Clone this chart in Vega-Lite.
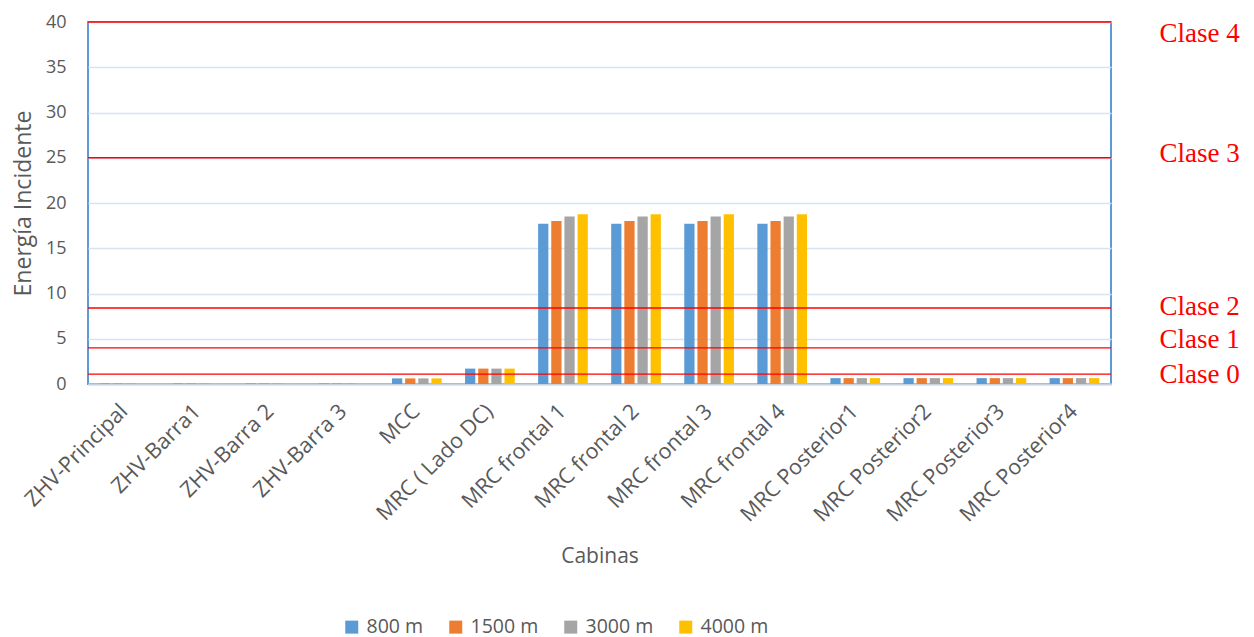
{
  "$schema": "https://vega.github.io/schema/vega-lite/v6.json",
  "width": 1023,
  "height": 362,
  "padding": {"left": 12, "top": 13, "right": 4, "bottom": 2},
  "background": "white",
  "config": {
    "font": "Open Sans",
    "view": {"stroke": "#5B9BD5", "strokeWidth": 2},
    "axis": {"labelColor": "#595959", "titleColor": "#595959", "labelFont": "Open Sans", "titleFont": "Open Sans", "titleFontWeight": "normal"},
    "legend": {"labelFont": "Open Sans", "labelColor": "#595959"}
  },
  "datasets": {
    "energia": [
      {"cabina": "ZHV-Principal", "distancia": "800 m", "energia": 0.05},
      {"cabina": "ZHV-Principal", "distancia": "1500 m", "energia": 0.05},
      {"cabina": "ZHV-Principal", "distancia": "3000 m", "energia": 0.05},
      {"cabina": "ZHV-Principal", "distancia": "4000 m", "energia": 0.05},
      {"cabina": "ZHV-Barra1", "distancia": "800 m", "energia": 0.05},
      {"cabina": "ZHV-Barra1", "distancia": "1500 m", "energia": 0.05},
      {"cabina": "ZHV-Barra1", "distancia": "3000 m", "energia": 0.05},
      {"cabina": "ZHV-Barra1", "distancia": "4000 m", "energia": 0.05},
      {"cabina": "ZHV-Barra 2", "distancia": "800 m", "energia": 0.05},
      {"cabina": "ZHV-Barra 2", "distancia": "1500 m", "energia": 0.05},
      {"cabina": "ZHV-Barra 2", "distancia": "3000 m", "energia": 0.05},
      {"cabina": "ZHV-Barra 2", "distancia": "4000 m", "energia": 0.05},
      {"cabina": "ZHV-Barra 3", "distancia": "800 m", "energia": 0.05},
      {"cabina": "ZHV-Barra 3", "distancia": "1500 m", "energia": 0.05},
      {"cabina": "ZHV-Barra 3", "distancia": "3000 m", "energia": 0.05},
      {"cabina": "ZHV-Barra 3", "distancia": "4000 m", "energia": 0.05},
      {"cabina": "MCC", "distancia": "800 m", "energia": 0.62},
      {"cabina": "MCC", "distancia": "1500 m", "energia": 0.62},
      {"cabina": "MCC", "distancia": "3000 m", "energia": 0.62},
      {"cabina": "MCC", "distancia": "4000 m", "energia": 0.62},
      {"cabina": "MRC ( Lado DC)", "distancia": "800 m", "energia": 1.7},
      {"cabina": "MRC ( Lado DC)", "distancia": "1500 m", "energia": 1.7},
      {"cabina": "MRC ( Lado DC)", "distancia": "3000 m", "energia": 1.7},
      {"cabina": "MRC ( Lado DC)", "distancia": "4000 m", "energia": 1.7},
      {"cabina": "MRC frontal 1", "distancia": "800 m", "energia": 17.7},
      {"cabina": "MRC frontal 1", "distancia": "1500 m", "energia": 18.0},
      {"cabina": "MRC frontal 1", "distancia": "3000 m", "energia": 18.5},
      {"cabina": "MRC frontal 1", "distancia": "4000 m", "energia": 18.75},
      {"cabina": "MRC frontal 2", "distancia": "800 m", "energia": 17.7},
      {"cabina": "MRC frontal 2", "distancia": "1500 m", "energia": 18.0},
      {"cabina": "MRC frontal 2", "distancia": "3000 m", "energia": 18.5},
      {"cabina": "MRC frontal 2", "distancia": "4000 m", "energia": 18.75},
      {"cabina": "MRC frontal 3", "distancia": "800 m", "energia": 17.7},
      {"cabina": "MRC frontal 3", "distancia": "1500 m", "energia": 18.0},
      {"cabina": "MRC frontal 3", "distancia": "3000 m", "energia": 18.5},
      {"cabina": "MRC frontal 3", "distancia": "4000 m", "energia": 18.75},
      {"cabina": "MRC frontal 4", "distancia": "800 m", "energia": 17.7},
      {"cabina": "MRC frontal 4", "distancia": "1500 m", "energia": 18.0},
      {"cabina": "MRC frontal 4", "distancia": "3000 m", "energia": 18.5},
      {"cabina": "MRC frontal 4", "distancia": "4000 m", "energia": 18.75},
      {"cabina": "MRC Posterior1", "distancia": "800 m", "energia": 0.65},
      {"cabina": "MRC Posterior1", "distancia": "1500 m", "energia": 0.65},
      {"cabina": "MRC Posterior1", "distancia": "3000 m", "energia": 0.65},
      {"cabina": "MRC Posterior1", "distancia": "4000 m", "energia": 0.65},
      {"cabina": "MRC Posterior2", "distancia": "800 m", "energia": 0.65},
      {"cabina": "MRC Posterior2", "distancia": "1500 m", "energia": 0.65},
      {"cabina": "MRC Posterior2", "distancia": "3000 m", "energia": 0.65},
      {"cabina": "MRC Posterior2", "distancia": "4000 m", "energia": 0.65},
      {"cabina": "MRC Posterior3", "distancia": "800 m", "energia": 0.65},
      {"cabina": "MRC Posterior3", "distancia": "1500 m", "energia": 0.65},
      {"cabina": "MRC Posterior3", "distancia": "3000 m", "energia": 0.65},
      {"cabina": "MRC Posterior3", "distancia": "4000 m", "energia": 0.65},
      {"cabina": "MRC Posterior4", "distancia": "800 m", "energia": 0.65},
      {"cabina": "MRC Posterior4", "distancia": "1500 m", "energia": 0.65},
      {"cabina": "MRC Posterior4", "distancia": "3000 m", "energia": 0.65},
      {"cabina": "MRC Posterior4", "distancia": "4000 m", "energia": 0.65}
    ],
    "clases": [
      {"clase": "Clase 0", "limite": 1.1},
      {"clase": "Clase 1", "limite": 4.0},
      {"clase": "Clase 2", "limite": 8.4},
      {"clase": "Clase 3", "limite": 25.0},
      {"clase": "Clase 4", "limite": 40.0}
    ]
  },
  "layer": [
    {
      "data": {"name": "energia"},
      "mark": {"type": "bar"},
      "encoding": {
        "x": {
          "field": "cabina",
          "type": "nominal",
          "sort": null,
          "scale": {"paddingInner": 0.32, "paddingOuter": 0.16},
          "axis": {
            "title": "Cabinas",
            "titleFontSize": 21,
            "titlePadding": 20,
            "labelAngle": -45,
            "labelAlign": "right",
            "labelBaseline": "middle",
            "labelFontSize": 21.5,
            "labelPadding": 24,
            "ticks": false,
            "tickSize": 0,
            "domainColor": "#C9D3DF",
            "domainWidth": 2
          }
        },
        "xOffset": {
          "field": "distancia",
          "type": "nominal",
          "sort": ["800 m", "1500 m", "3000 m", "4000 m"],
          "scale": {"paddingInner": 0.22, "paddingOuter": 0}
        },
        "y": {
          "field": "energia",
          "type": "quantitative",
          "scale": {"domain": [0, 40], "nice": false},
          "axis": {
            "title": "Energía Incidente",
            "titleFontSize": 23,
            "titlePadding": 10,
            "values": [0, 5, 10, 15, 20, 25, 30, 35, 40],
            "labelFontSize": 18,
            "labelPadding": 22,
            "ticks": false,
            "tickSize": 0,
            "domain": false,
            "grid": true,
            "gridColor": "#D6E4F2",
            "gridWidth": 1.5
          }
        },
        "color": {
          "field": "distancia",
          "type": "nominal",
          "scale": {
            "domain": ["800 m", "1500 m", "3000 m", "4000 m"],
            "range": ["#5B9BD5", "#ED7D31", "#A5A5A5", "#FFC000"]
          },
          "legend": {
            "title": null,
            "orient": "none",
            "legendX": 254,
            "legendY": 595,
            "direction": "horizontal",
            "labelFontSize": 19.5,
            "symbolType": "square",
            "symbolSize": 169,
            "symbolStrokeWidth": 0,
            "labelOffset": 5,
            "columnPadding": 22
          }
        }
      }
    },
    {
      "data": {"name": "clases"},
      "mark": {"type": "rule", "color": "#FF0000", "strokeWidth": 1.3},
      "encoding": {
        "y": {
          "field": "limite",
          "type": "quantitative",
          "axis": {
            "orient": "right",
            "title": null,
            "values": [1.1, 4.9, 8.6, 25.5, 38.7],
            "labelExpr": "datum.value < 2 ? 'Clase 0' : datum.value < 6 ? 'Clase 1' : datum.value < 10 ? 'Clase 2' : datum.value < 30 ? 'Clase 3' : 'Clase 4'",
            "labelFont": "Liberation Serif",
            "labelFontSize": 27,
            "labelColor": "#FF0000",
            "labelPadding": 48,
            "ticks": false,
            "tickSize": 0,
            "domain": false,
            "grid": false
          }
        }
      }
    }
  ],
  "resolve": {"axis": {"y": "independent"}}
}
